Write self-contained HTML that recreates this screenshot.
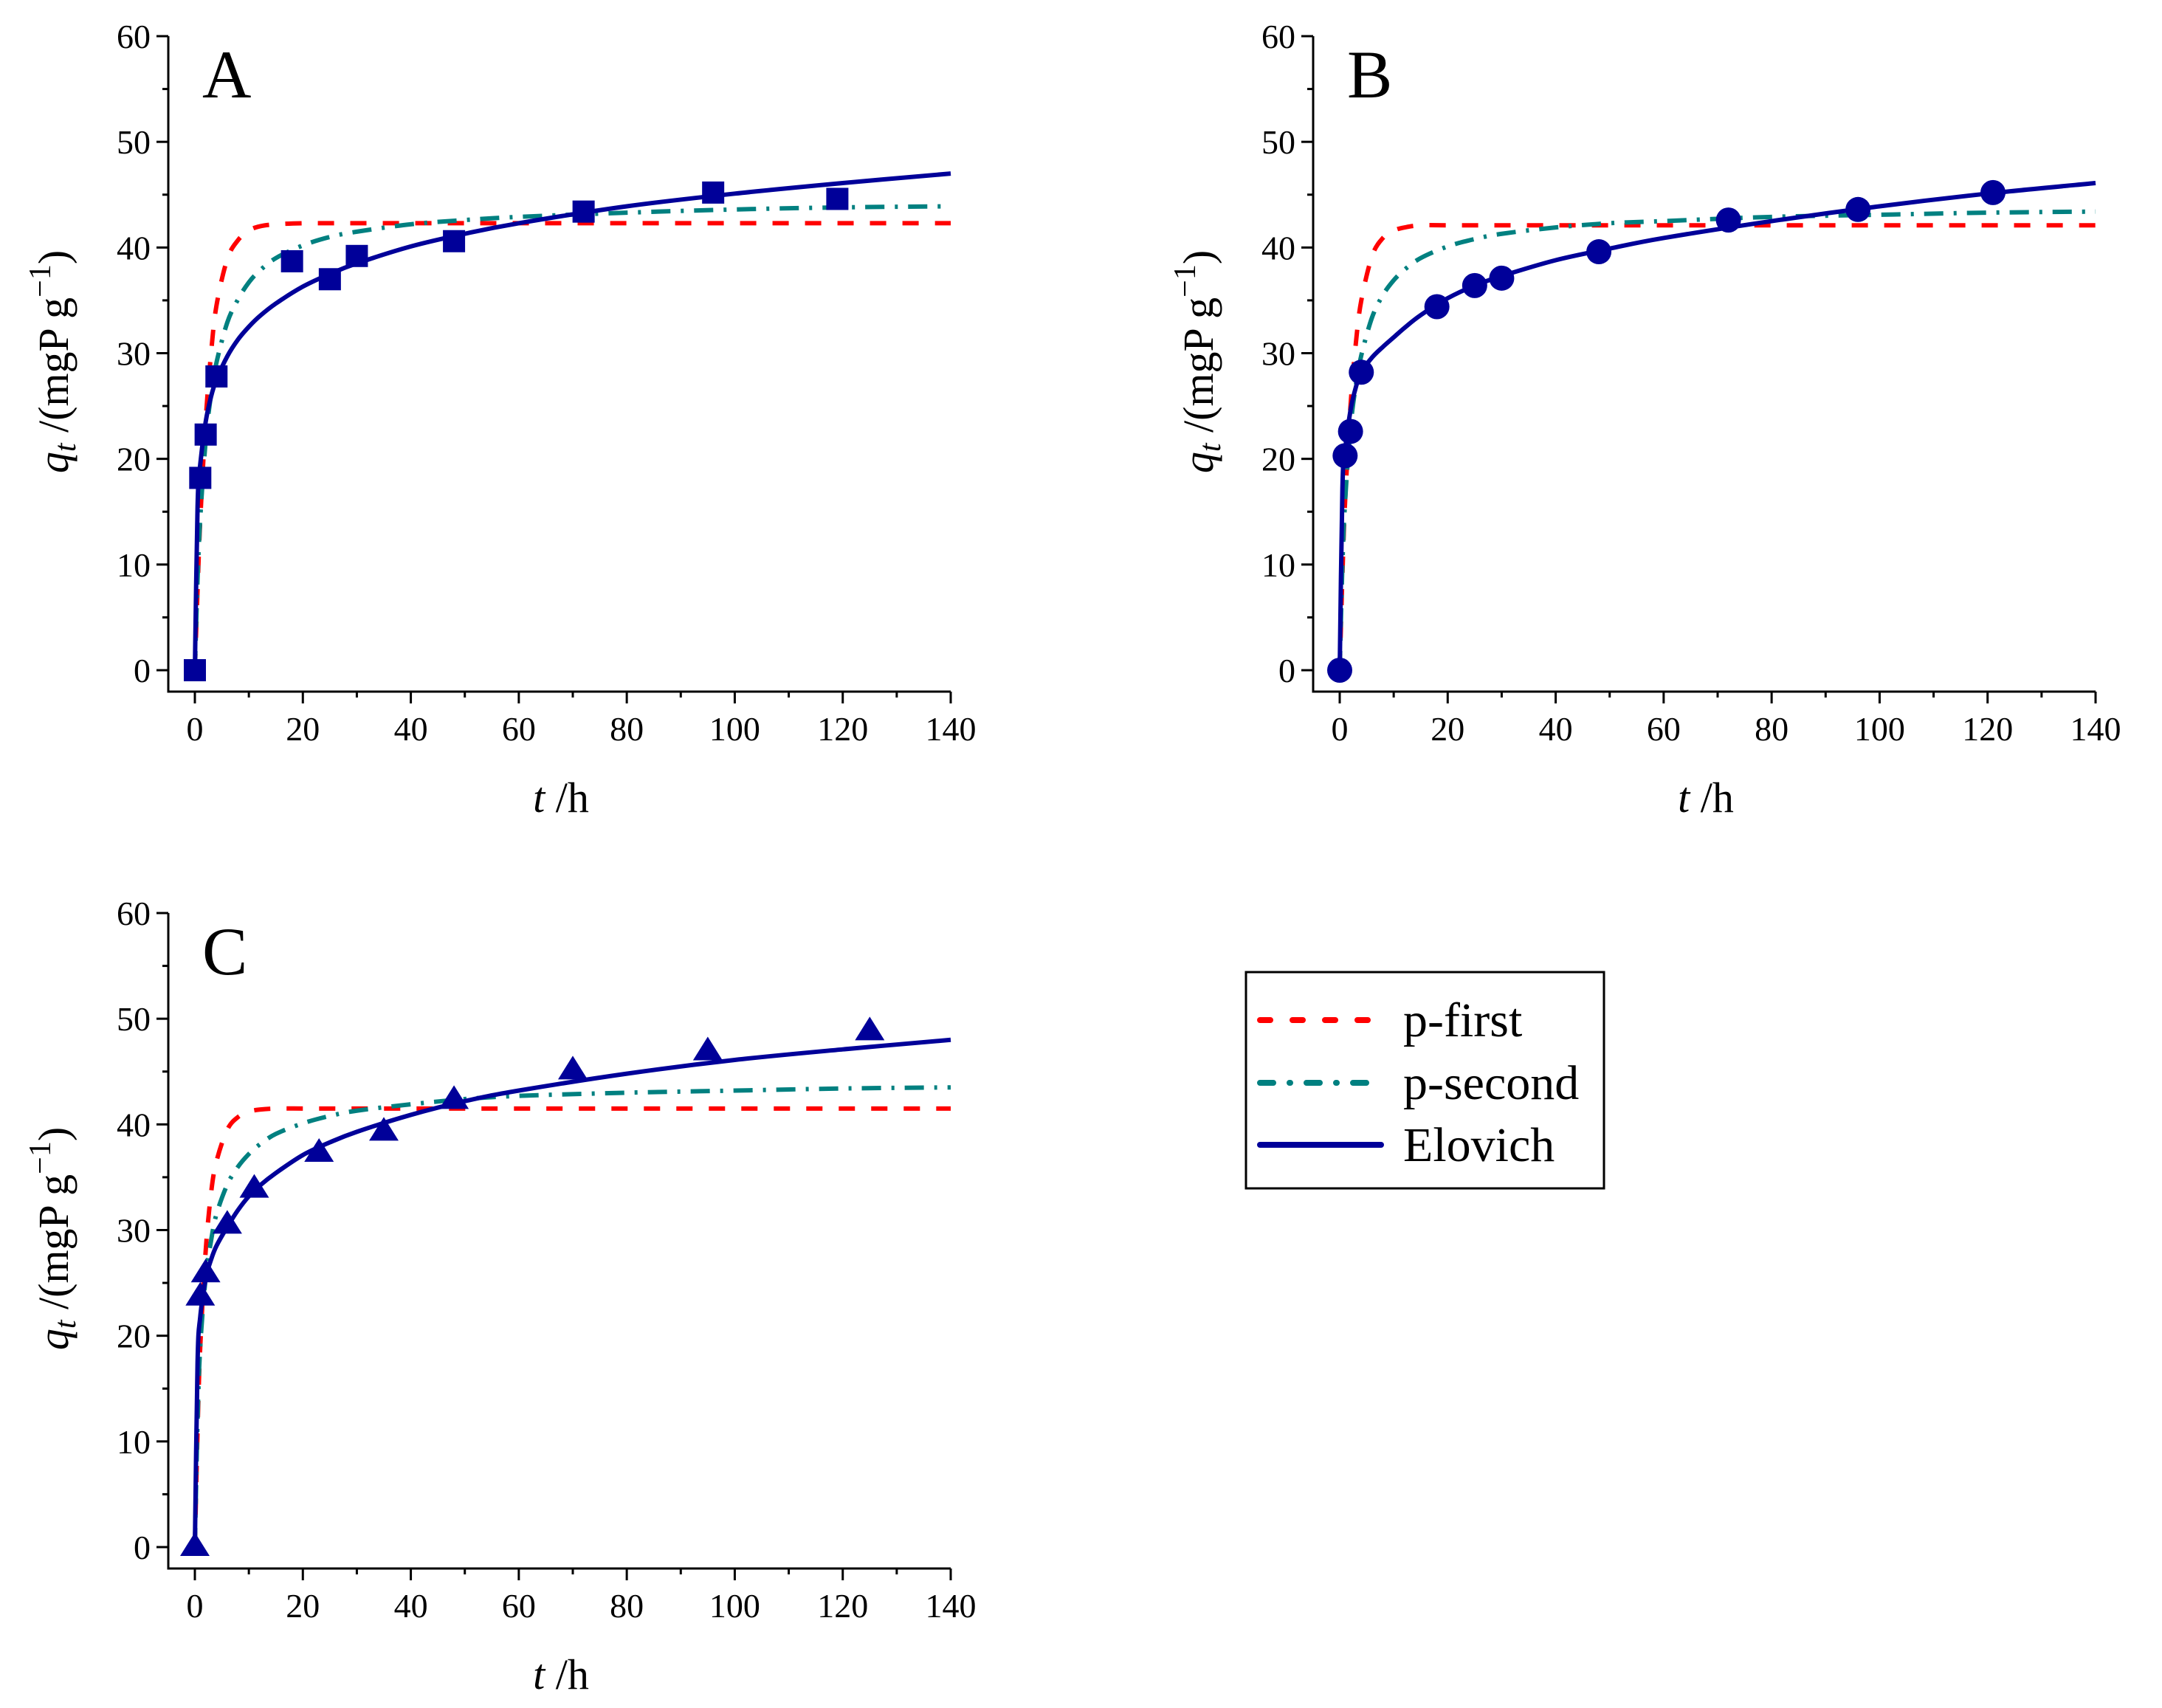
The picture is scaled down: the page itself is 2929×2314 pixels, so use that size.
<!DOCTYPE html>
<html><head><meta charset="utf-8"><style>
html,body{margin:0;padding:0;background:#fff;}
svg{display:block;font-family:"Liberation Serif",serif;}
svg text{font-family:"Liberation Serif",serif;}
</style></head><body>
<svg id="fig" width="2929" height="2314" viewBox="0 0 2929 2314" xmlns="http://www.w3.org/2000/svg"></svg>
<script>
// ---- data ----
const curveT = [0,0.5,1,2,3,4,6,8,10,12,15,20,25,30,40,50,60,80,100,120,140];
const xTicks = [0,20,40,60,80,100,120,140];
const yTicks = [0,10,20,30,40,50,60];

const aPointsT = [0,1,2,4,18,25,30,48,72,96,119];
const aPointsQ = [0,18.2,22.3,27.8,38.7,37.0,39.2,40.6,43.4,45.2,44.6];
const aFirst  = [0,7.6,14.2,23.6,30,34.5,38.9,40.7,41.6,42.0,42.2,42.3,42.3,42.3,42.3,42.3,42.3,42.3,42.3,42.3,42.3];
const aSecond = [0,8.6,14.4,21.7,26.1,29.1,32.9,35.1,36.7,37.8,39.0,40.2,41.0,41.5,42.2,42.6,42.9,43.3,43.6,43.8,43.9];
const aElov   = [0,15.5,19.5,23.5,25.9,27.5,29.7,31.3,32.5,33.5,34.7,36.3,37.5,38.5,40.1,41.3,42.3,43.9,45.1,46.1,47.0];

const bPointsT = [0,1,2,4,18,25,30,48,72,96,121];
const bPointsQ = [0,20.3,22.6,28.2,34.4,36.4,37.1,39.6,42.6,43.6,45.2];
const bFirst  = [0,9,16,25,31,35,39.2,40.9,41.6,41.9,42.1,42.1,42.1,42.1,42.1,42.1,42.1,42.1,42.1,42.1,42.1];
const bSecond = [0,10,16,23,27,29.8,33.4,35.5,36.9,37.9,39,40.1,40.8,41.3,41.9,42.3,42.5,42.9,43.1,43.3,43.4];
const bElov   = [0,17.2,20.8,24.6,26.8,28.2,29.6,30.6,31.5,32.4,33.6,35.2,36.4,37.3,38.8,39.9,40.9,42.5,43.9,45.1,46.1];

const cPointsT = [0,1,2,6,11,23,35,48,70,95,125];
const cPointsQ = [0,23.7,25.9,30.5,33.9,37.3,39.3,42.3,45.1,46.9,48.8];
const cFirst  = [0,11,19,28,33.5,36.5,39.5,40.7,41.2,41.4,41.5,41.5,41.5,41.5,41.5,41.5,41.5,41.5,41.5,41.5,41.5];
const cSecond = [0,12,19,25.5,29,31.5,34.3,36,37.2,38.1,39.1,40.1,40.8,41.3,41.9,42.4,42.7,43,43.2,43.4,43.5];
const cElov   = [0,17.5,21.8,25.4,27.2,28.5,30.3,31.9,33.2,34.2,35.4,37.1,38.3,39.3,40.9,42.2,43.2,44.8,46.1,47.1,48.0];

const NS = "http://www.w3.org/2000/svg";
const svg = document.getElementById('fig');
function mk(tag, attrs, parent){
  const e = document.createElementNS(NS, tag);
  for (const k in attrs) e.setAttribute(k, attrs[k]);
  (parent||svg).appendChild(e);
  return e;
}
function smoothPath(pts){
  let d = `M${pts[0][0]},${pts[0][1]}`;
  for (let i=0;i<pts.length-1;i++){
    const p0=pts[Math.max(0,i-1)], p1=pts[i], p2=pts[i+1], p3=pts[Math.min(pts.length-1,i+2)];
    const c1=[p1[0]+(p2[0]-p0[0])/6, p1[1]+(p2[1]-p0[1])/6];
    const c2=[p2[0]-(p3[0]-p1[0])/6, p2[1]-(p3[1]-p1[1])/6];
    d += ` C${c1[0]},${c1[1]} ${c2[0]},${c2[1]} ${p2[0]},${p2[1]}`;
  }
  return d;
}

function panel(name, dx, dy, letter, pT, pQ, first, second, elov, marker){
  const g = mk('g', {});
  
  
  const x0 = 264+dx, x1 = 1288+dx, y0 = 908+dy, y1 = 49+dy;
  const axL = 228+dx, axB = 937+dy;
  const sx = t => x0 + (x1-x0)*t/140;
  const sy = q => y0 - (y0-y1)*q/60;

  const ax = mk('path', {d:`M${axL},${y1} L${axL},${axB} L${x1},${axB}`, fill:'none', stroke:'#000', 'stroke-width':3}, g);
  
  
  for (let v=0; v<=60; v+=5){
    const major = v%10===0;
    mk('line',{x1:axL-(major?16:8),x2:axL,y1:sy(v),y2:sy(v),stroke:'#000','stroke-width':3},g);
  }
  yTicks.forEach(v=>{
    const t = mk('text',{x:axL-24,y:sy(v)+16,'text-anchor':'end','font-size':46,fill:'#000'},g);
    t.textContent = v;
    
    
  });
  for (let v=0; v<=140; v+=10){
    const major = v%20===0;
    mk('line',{x1:sx(v),x2:sx(v),y1:axB,y2:axB+(major?16:8),stroke:'#000','stroke-width':3},g);
  }
  xTicks.forEach(v=>{
    const t = mk('text',{x:sx(v),y:axB+66,'text-anchor':'middle','font-size':46,fill:'#000'},g);
    t.textContent = v;
    
    
  });
  const xt = mk('text',{x:760+dx,y:1100+dy,'text-anchor':'middle','font-size':58,fill:'#000'},g);
  
  
  xt.innerHTML = '<tspan font-style="italic">t</tspan> /h';
  const yt = mk('text',{x:0,y:0,'text-anchor':'middle','font-size':58,fill:'#000',transform:`translate(${92+dx},${490+dy}) rotate(-90)`},g);
  
  
  yt.innerHTML = '<tspan font-style="italic">q</tspan><tspan font-style="italic" font-size="42" dy="10">t</tspan><tspan dy="-10"> /(mgP g</tspan><tspan font-size="42" dy="-24">−1</tspan><tspan dy="24">)</tspan>';
  const lt = mk('text',{x:274+dx,y:132+dy,'font-size':92,fill:'#000'},g);
  lt.textContent = letter;
  
  

  const pts = arr => curveT.map((t,i)=>[sx(t), sy(arr[i])]);
  const c1 = mk('path',{d:smoothPath(pts(first)),fill:'none',stroke:'#ff0000','stroke-width':6,'stroke-dasharray':'22 22'},g);
  
  
  const c2 = mk('path',{d:smoothPath(pts(second)),fill:'none',stroke:'#008080','stroke-width':6,'stroke-dasharray':'26 14 4 14'},g);
  
  
  const c3 = mk('path',{d:smoothPath(pts(elov)),fill:'none',stroke:'#000099','stroke-width':6},g);
  
  

  pT.forEach((t,i)=>{
    const cx = sx(t), cy = sy(pQ[i]);
    let m;
    if (marker==='square') m = mk('rect',{x:cx-15,y:cy-15,width:30,height:30,fill:'#000099'},g);
    else if (marker==='circle') m = mk('circle',{cx:cx,cy:cy,r:17,fill:'#000099'},g);
    else m = mk('polygon',{points:`${cx-20},${cy+12} ${cx+20},${cy+12} ${cx},${cy-20}`,fill:'#000099'},g);
    
    
  });
}

panel('a', 0, 0, 'A', aPointsT, aPointsQ, aFirst, aSecond, aElov, 'square');
panel('b', 1551, 0, 'B', bPointsT, bPointsQ, bFirst, bSecond, bElov, 'circle');
panel('c', 0, 1188, 'C', cPointsT, cPointsQ, cFirst, cSecond, cElov, 'triangle');

const lg = mk('g',{});


mk('rect',{x:1688,y:1317,width:485,height:293,fill:'#fff',stroke:'#000','stroke-width':3},lg);
const entries = [['p-first','#ff0000','22 22',1382],['p-second','#008080','26 14 4 14',1467],['Elovich','#000099','',1551]];
entries.forEach(e=>{
  const l = mk('line',{x1:1707,x2:1871,y1:e[3],y2:e[3],stroke:e[1],'stroke-width':8,'stroke-linecap':'round'},lg);
  if (e[2]) l.setAttribute('stroke-dasharray', e[2].split(' ').map((v,i)=>i%2?+v+8:Math.max(1,+v-8)).join(' '));
  
  
  const t = mk('text',{x:1901,y:e[3]+22,'font-size':66,fill:'#000'},lg);
  t.textContent = e[0];
  
  
});
</script>
</body></html>
